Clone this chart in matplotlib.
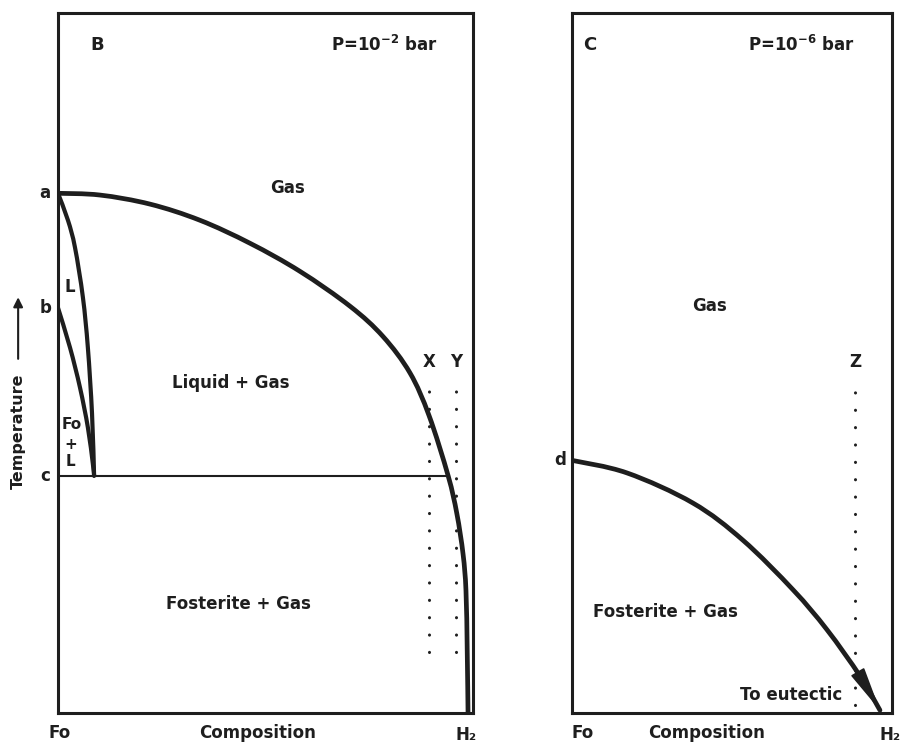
import matplotlib
matplotlib.use('Agg')
import matplotlib.pyplot as plt
from matplotlib.path import Path
from matplotlib.patches import PathPatch

plt.rcParams['font.family'] = ['DejaVu Sans']
plt.rcParams['lines.scale_dashes'] = False

INK = '#1e1e1e'

# --- panel B (P = 1e-2 bar): composition 0 = Fo, 1 = H2; temperature 0..1
gas_b_x = [0.0, 0.101, 0.222, 0.342, 0.463, 0.583, 0.704, 0.783, 0.848,
           0.894, 0.940, 0.961, 0.976, 0.983, 0.986, 0.988]
gas_b_t = [0.7425, 0.740, 0.727, 0.704, 0.671, 0.631, 0.581, 0.538, 0.486,
           0.425, 0.339, 0.285, 0.227, 0.175, 0.089, 0.0]
liq_b_x = [0.0, 0.024, 0.041, 0.060, 0.072, 0.082, 0.087]
liq_b_t = [0.7425, 0.704, 0.665, 0.594, 0.522, 0.428, 0.339]
sol_b_x = [0.0, 0.029, 0.053, 0.072, 0.084, 0.087]
sol_b_t = [0.579, 0.522, 0.465, 0.408, 0.356, 0.339]
t_points_b = {'a': 0.7425, 'b': 0.579, 'c': 0.339}
c_line_end = 0.940
iso_b = {'X': 0.894, 'Y': 0.959}
iso_b_t = (0.087, 0.481)

# --- panel C (P = 1e-6 bar)
gas_c_x = [0.0, 0.172, 0.378, 0.534, 0.691, 0.797, 0.900, 0.9625]
gas_c_t = [0.361, 0.343, 0.300, 0.247, 0.176, 0.119, 0.053, 0.004]
t_d = 0.361
iso_c = {'Z': 0.884}
iso_c_t = (0.011, 0.481)


def smooth(xs, ys):
    # bezier path through the read points (catmull-rom handles)
    pts = list(zip(xs, ys))
    verts, codes = [pts[0]], [Path.MOVETO]
    for i in range(len(pts) - 1):
        p0 = pts[i - 1] if i > 0 else pts[i]
        p1, p2 = pts[i], pts[i + 1]
        p3 = pts[i + 2] if i + 2 < len(pts) else pts[i + 1]
        c1 = (p1[0] + (p2[0] - p0[0]) / 6, p1[1] + (p2[1] - p0[1]) / 6)
        c2 = (p2[0] - (p3[0] - p1[0]) / 6, p2[1] - (p3[1] - p1[1]) / 6)
        verts += [c1, c2, p2]
        codes += [Path.CURVE4] * 3
    return Path(verts, codes)


def curve(ax, xs, ys, lw):
    ax.add_patch(PathPatch(smooth(xs, ys), fill=False, edgecolor=INK, lw=lw,
                           joinstyle='round', capstyle='round'))


fig = plt.figure(figsize=(9.06, 7.46), dpi=100)
axB = fig.add_axes([0.0640, 0.0442, 0.4581, 0.9383])
axC = fig.add_axes([0.6313, 0.0442, 0.3532, 0.9383])

for ax in (axB, axC):
    ax.set_xlim(0, 1)
    ax.set_ylim(0, 1)
    ax.set_xticks([])
    ax.set_yticks([])
    for s in ax.spines.values():
        s.set_linewidth(2.2)
        s.set_color(INK)

txt = dict(color=INK, fontsize=12, fontweight='bold', ha='center', va='center')
dots = dict(color=INK, lw=2.2, linestyle=(0, (0.1, 12.4)), dash_capstyle='round')

# panel B curves
curve(axB, gas_b_x, gas_b_t, 3.4)
curve(axB, liq_b_x, liq_b_t, 3.0)
curve(axB, sol_b_x, sol_b_t, 3.0)
axB.plot([0, c_line_end], [t_points_b['c']] * 2, color=INK, lw=1.5)
for name, x in iso_b.items():
    axB.plot([x, x], iso_b_t, **dots)
    axB.text(x, 0.501, name, **txt)

for name, t in t_points_b.items():
    axB.text(-0.031, t, name, clip_on=False, **txt)

axB.text(0.094, 0.954, 'B', **{**txt, 'fontsize': 13})
axB.text(0.916, 0.954, r'P=10$^{\mathbf{-2}}$ bar', **{**txt, 'ha': 'right'})
axB.text(0.552, 0.750, 'Gas', **txt)
axB.text(0.417, 0.472, 'Liquid + Gas', **txt)
axB.text(0.434, 0.156, 'Fosterite + Gas', **txt)
axB.text(0.029, 0.608, 'L', **txt)
axB.text(0.033, 0.412, 'Fo', **{**txt, 'fontsize': 11})
axB.text(0.031, 0.384, '+', **{**txt, 'fontsize': 11})
axB.text(0.029, 0.359, 'L', **{**txt, 'fontsize': 11})
axB.text(0.005, -0.029, 'Fo', **txt)
axB.text(0.482, -0.029, 'Composition', **txt)
axB.text(0.983, -0.031, 'H₂', **txt)

axB.text(-0.096, 0.403, 'Temperature', rotation=90, **{**txt, 'fontsize': 11.5})
axB.annotate('', xy=(-0.096, 0.594), xytext=(-0.096, 0.506), xycoords='axes fraction',
             arrowprops=dict(arrowstyle='-|>', lw=1.5, color=INK, mutation_scale=14,
                             shrinkA=0, shrinkB=0),
             annotation_clip=False)

# panel C curve with arrow head at the end
curve(axC, gas_c_x, gas_c_t, 3.4)
axC.annotate('', xy=(gas_c_x[-1], gas_c_t[-1]), xytext=(gas_c_x[-2], gas_c_t[-2]),
             arrowprops=dict(arrowstyle='-|>,head_length=1.4,head_width=0.24', lw=1.2,
                             color=INK, mutation_scale=20, shrinkA=0, shrinkB=0))
for name, x in iso_c.items():
    axC.plot([x, x], iso_c_t, **dots)
    axC.text(x, 0.501, name, **txt)

axC.text(-0.0375, t_d, 'd', clip_on=False, **txt)
axC.text(0.056, 0.954, 'C', **{**txt, 'fontsize': 13})
axC.text(0.884, 0.954, r'P=10$^{\mathbf{-6}}$ bar', **{**txt, 'ha': 'right'})
axC.text(0.431, 0.581, 'Gas', **txt)
axC.text(0.291, 0.144, 'Fosterite + Gas', **txt)
axC.text(0.844, 0.026, 'To eutectic', **{**txt, 'ha': 'right'})
axC.text(0.034, -0.029, 'Fo', **txt)
axC.text(0.422, -0.029, 'Composition', **txt)
axC.text(0.994, -0.031, 'H₂', **txt)

fig.savefig('out.png', dpi=100)
